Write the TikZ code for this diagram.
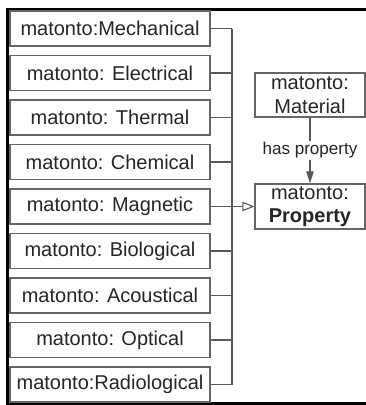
\documentclass[tikz,border=0pt]{standalone}
\usepackage{fontspec}
\setmainfont{Liberation Sans}
\usetikzlibrary{arrows.meta}

\begin{document}
\begin{tikzpicture}[x=0.75pt,y=-0.75pt,
    cls/.style={draw=black!60,line width=0.9pt,fill=white,text=black!85,font=\fontsize{15}{18}\selectfont,
      minimum width=150pt,minimum height=26.25pt,inner sep=0pt},
    main/.style={draw=black!60,line width=0.9pt,fill=white,text=black!85,font=\fontsize{15}{17.5}\selectfont,
      minimum width=82.5pt,minimum height=33pt,inner sep=0pt,align=center},
    wire/.style={draw=black!65,line width=0.8pt}]

\useasboundingbox (0,0) rectangle (366,405);

% outer frame
\draw[line width=2.3pt] (372,9.5) -- (7.5,9.5) -- (7.5,403.5) -- (372,403.5);

\node[cls] (mech) at (110,28.5) {matonto:Mechanical};
\node[cls] (elec) at (110,73) {matonto: Electrical};
\node[cls] (therm) at (110,117.5) {matonto: Thermal};
\node[cls] (chem) at (110,162) {matonto: Chemical};
\node[cls] (magn) at (110,206.5) {matonto: Magnetic};
\node[cls] (bio) at (110,251) {matonto: Biological};
\node[cls] (acou) at (110,295.5) {matonto: Acoustical};
\node[cls] (opt) at (110,340) {matonto: Optical};
\node[cls] (radio) at (110,384.5) {matonto:Radiological};

\node[main] (mat) at (310,95) {matonto:\\Material};
\node[main,minimum height=33.75pt] (prop) at (310,206.5) {matonto:\\\textbf{Property}};

\coordinate (bustop) at (232,28.5);
\coordinate (busbot) at (232,384.5);

\draw[wire] (bustop) -- (busbot);
\draw[wire] (mech.east) -- (mech.east -| bustop);
\draw[wire] (elec.east) -- (elec.east -| bustop);
\draw[wire] (therm.east) -- (therm.east -| bustop);
\draw[wire] (chem.east) -- (chem.east -| bustop);
\draw[wire] (magn.east) -- (magn.east -| bustop);
\draw[wire] (bio.east) -- (bio.east -| bustop);
\draw[wire] (acou.east) -- (acou.east -| bustop);
\draw[wire] (opt.east) -- (opt.east -| bustop);
\draw[wire] (radio.east) -- (radio.east -| bustop);

\draw[wire,-{Triangle[open,length=9pt,width=7pt]}] (magn.east -| bustop) -- (prop.west);
\draw[wire,-{Triangle[length=9pt,width=5.5pt]}] (mat) -- node[fill=white,text=black!85,inner sep=1pt,
    font=\fontsize{12.8}{14}\selectfont,pos=0.5] {has property} (prop);
\end{tikzpicture}
\end{document}
